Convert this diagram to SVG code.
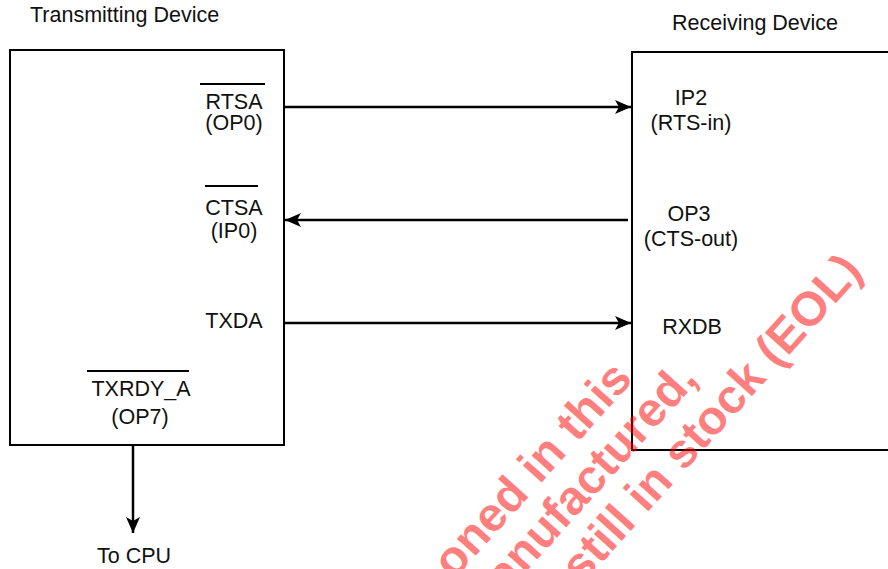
<svg xmlns="http://www.w3.org/2000/svg" width="888" height="569" viewBox="0 0 888 569">
  <style>
    .box { fill: none; stroke: #000; stroke-width: 2; }
    .lbl { font-family: "Liberation Sans", Arial, sans-serif; font-size: 21.5px; fill: #111; }
    .mid { text-anchor: middle; }
    .ovl { stroke: #000; stroke-width: 2; }
    .conn { stroke: #000; stroke-width: 2.5; fill: none; marker-end: url(#arr); }
    .wm { font-family: "Liberation Sans", Arial, sans-serif; font-weight: bold; font-size: 48px; fill: #ff0000; fill-opacity: 0.5; text-anchor: end; }
  </style>
  <defs>
    <marker id="arr" markerUnits="userSpaceOnUse" markerWidth="18" markerHeight="16" refX="16" refY="7" orient="auto">
      <path d="M0,0 L16,7 L0,14 L4,7 Z" fill="#000"/>
    </marker>
  </defs>
  <rect width="888" height="569" fill="#fff"/>

  <g id="transmitting-device">
    <rect class="box" x="10" y="50" width="274" height="395"/>
    <text class="lbl" x="30" y="22">Transmitting Device</text>
    <line class="ovl" x1="200" y1="84" x2="265" y2="84"/>
    <text class="lbl mid" x="234" y="109">RTSA</text>
    <text class="lbl mid" x="234" y="130">(OP0)</text>
    <line class="ovl" x1="205" y1="186" x2="258" y2="186"/>
    <text class="lbl mid" x="234" y="215">CTSA</text>
    <text class="lbl mid" x="234" y="238">(IP0)</text>
    <text class="lbl mid" x="234" y="328">TXDA</text>
    <line class="ovl" x1="87" y1="371" x2="189" y2="371"/>
    <text class="lbl mid" x="141" y="396">TXRDY_A</text>
    <text class="lbl mid" x="140" y="424">(OP7)</text>
  </g>

  <g id="receiving-device">
    <rect class="box" x="632" y="52" width="260" height="398"/>
    <text class="lbl mid" x="755" y="30">Receiving Device</text>
    <text class="lbl mid" x="691" y="105">IP2</text>
    <text class="lbl mid" x="691" y="130">(RTS-in)</text>
    <text class="lbl mid" x="689" y="221">OP3</text>
    <text class="lbl mid" x="691" y="246">(CTS-out)</text>
    <text class="lbl mid" x="692" y="334">RXDB</text>
  </g>

  <g id="cpu">
    <text class="lbl mid" x="134" y="563">To CPU</text>
  </g>

  <g id="connectors">
    <line class="conn" x1="285" y1="107" x2="631" y2="107"/>
    <line class="conn" x1="628" y1="220" x2="285" y2="220"/>
    <line class="conn" x1="285" y1="323" x2="631" y2="323"/>
    <line class="conn" x1="133" y1="445" x2="133" y2="533"/>
  </g>

  <g id="watermark">
    <text class="wm" x="634" y="380" transform="rotate(-48 634 380)">oned in this</text>
    <text class="wm" x="699" y="380" transform="rotate(-48 699 380)">anufactured,</text>
    <text class="wm" x="864" y="272" transform="rotate(-48 864 272)">still in stock (EOL)</text>
  </g>
</svg>
